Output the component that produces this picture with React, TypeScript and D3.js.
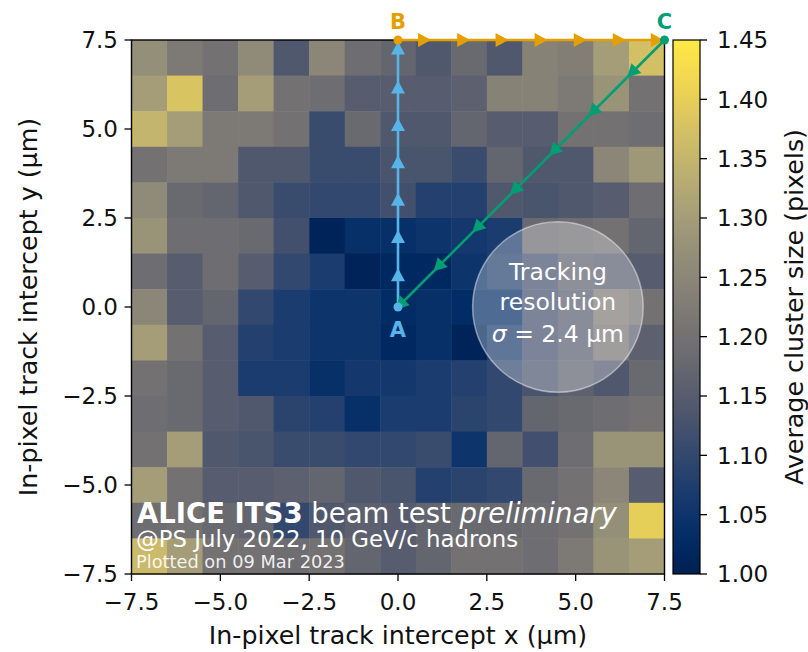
import React from "react";
import * as d3 from "d3";

// ---- data ----
const xCenters = [-7, -6, -5, -4, -3, -2, -1, 0, 1, 2, 3, 4, 5, 6, 7];
const yCenters = [7, 6, 5, 4, 3, 2, 1, 0, -1, -2, -3, -4, -5, -6, -7];
// average cluster size, rows from y=7 (top) to y=-7 (bottom), cols x=-7..7
const clusterSize = [
  [1.27, 1.22, 1.2, 1.26, 1.14, 1.25, 1.19, 1.17, 1.14, 1.18, 1.14, 1.24, 1.23, 1.3, 1.37],
  [1.3, 1.38, 1.19, 1.3, 1.2, 1.19, 1.15, 1.15, 1.15, 1.16, 1.24, 1.24, 1.22, 1.28, 1.2],
  [1.35, 1.3, 1.22, 1.22, 1.2, 1.11, 1.18, 1.14, 1.14, 1.17, 1.15, 1.15, 1.2, 1.2, 1.19],
  [1.2, 1.22, 1.22, 1.14, 1.14, 1.11, 1.11, 1.13, 1.13, 1.11, 1.17, 1.14, 1.14, 1.25, 1.29],
  [1.26, 1.18, 1.17, 1.14, 1.11, 1.1, 1.1, 1.12, 1.08, 1.08, 1.14, 1.13, 1.14, 1.15, 1.19],
  [1.28, 1.19, 1.19, 1.18, 1.12, 1.01, 1.04, 1.04, 1.05, 1.06, 1.07, 1.18, 1.19, 1.2, 1.17],
  [1.19, 1.15, 1.19, 1.15, 1.1, 1.07, 1.01, 1.02, 1.02, 1.05, 1.08, 1.12, 1.16, 1.15, 1.15],
  [1.25, 1.15, 1.17, 1.1, 1.07, 1.05, 1.05, 1.03, 1.04, 1.03, 1.03, 1.12, 1.15, 1.22, 1.2],
  [1.3, 1.2, 1.15, 1.08, 1.07, 1.05, 1.05, 1.02, 1.04, 1.01, 1.07, 1.12, 1.15, 1.21, 1.16],
  [1.2, 1.18, 1.15, 1.07, 1.07, 1.04, 1.06, 1.06, 1.07, 1.08, 1.1, 1.13, 1.16, 1.14, 1.18],
  [1.19, 1.18, 1.15, 1.14, 1.09, 1.08, 1.04, 1.07, 1.07, 1.09, 1.1, 1.17, 1.18, 1.19, 1.2],
  [1.2, 1.3, 1.14, 1.13, 1.11, 1.11, 1.1, 1.1, 1.11, 1.05, 1.17, 1.12, 1.19, 1.28, 1.28],
  [1.3, 1.2, 1.15, 1.15, 1.16, 1.17, 1.14, 1.13, 1.08, 1.09, 1.1, 1.18, 1.2, 1.25, 1.15],
  [1.19, 1.2, 1.18, 1.17, 1.1, 1.14, 1.16, 1.15, 1.17, 1.18, 1.18, 1.19, 1.2, 1.27, 1.4],
  [1.36, 1.3, 1.2, 1.2, 1.19, 1.2, 1.17, 1.15, 1.17, 1.2, 1.2, 1.19, 1.22, 1.28, 1.3],
];
const axisTicks = [-7.5, -5, -2.5, 0, 2.5, 5, 7.5];
const colorTicks = [1.0, 1.05, 1.1, 1.15, 1.2, 1.25, 1.3, 1.35, 1.4, 1.45];

// path points (µm)
const pointA = [0, 0];
const pointB = [0, 7.5];
const pointC = [7.5, 7.5];
// marker positions along each path
const markersAB = [0.88, 1.95, 3.0, 4.05, 5.1, 6.15, 7.25]; // y, at x=0
const markersBC = [0.72, 1.82, 2.9, 4.0, 5.1, 6.2, 7.27]; // x, at y=7.5
const markersCA = [6.6, 5.5, 4.4, 3.3, 2.24, 1.15, 0.08]; // x = y

const resolutionCenter = [4.5, 0];
const resolutionSigma = 2.4;

const BLUE = "#56B4E9";
const ORANGE = "#E69F00";
const GREEN = "#009E73";
const FONT = "'DejaVu Sans', sans-serif";

const W = 808;
const H = 652;

export default function App() {
  const x = d3.scaleLinear().domain([-7.5, 7.5]).range([131.5, 664.5]);
  const y = d3.scaleLinear().domain([-7.5, 7.5]).range([574, 40]);
  const color = d3.scaleSequential(d3.interpolateCividis).domain([1.0, 1.45]);
  const cb = d3.scaleLinear().domain([1.0, 1.45]).range([574, 40]);
  const cbX0 = 673;
  const cbX1 = 700;

  const cells: { x0: number; x1: number; y0: number; y1: number; v: number }[] = [];
  yCenters.forEach((yc, r) => {
    xCenters.forEach((xc, c) => {
      cells.push({
        x0: x(xc - 0.5),
        x1: x(xc + 0.5),
        y0: y(yc + 0.5),
        y1: y(yc - 0.5),
        v: clusterSize[r][c],
      });
    });
  });

  const fmt = (v: number) => (v < 0 ? "\u2212" + Math.abs(v).toFixed(1) : v.toFixed(1));
  const tri = "M0,-7.5 L7,5.5 L-7,5.5 Z";
  const line = d3.line<number[]>().x((d) => x(d[0])).y((d) => y(d[1]));
  const stops = d3.range(0, 1.0001, 0.05);

  const rPx = x(resolutionSigma) - x(0);
  const cx = x(resolutionCenter[0]);
  const cy = y(resolutionCenter[1]);

  return (
    <svg
      width={W}
      height={H}
      style={{ position: "absolute", left: 0, top: 0, background: "white" }}
      fontFamily={FONT}
    >
      <defs>
        <linearGradient id="cbgrad" x1="0" y1="1" x2="0" y2="0">
          {stops.map((t) => (
            <stop key={t} offset={t} stopColor={d3.interpolateCividis(t)} />
          ))}
        </linearGradient>
      </defs>

      {/* heatmap */}
      {cells.map((c, i) => (
        <rect
          key={i}
          x={c.x0}
          y={c.y0}
          width={c.x1 - c.x0 + 0.5}
          height={c.y1 - c.y0 + 0.5}
          fill={color(c.v)}
        />
      ))}

      {/* bottom-left text */}
      <text x={137} y={523} fill="white" fontSize={27.5}>
        <tspan fontWeight="bold">ALICE ITS3</tspan>
        <tspan> beam test </tspan>
        <tspan fontStyle="italic">preliminary</tspan>
      </text>
      <text x={136} y={547} fill="white" fontSize={22.8}>
        @PS July 2022, 10 GeV/c hadrons
      </text>
      <text x={136} y={568} fill="white" fillOpacity={0.9} fontSize={17.8}>
        Plotted on 09 Mar 2023
      </text>

      {/* resolution circle */}
      <circle cx={cx} cy={cy} r={rPx} fill="white" fillOpacity={0.3} stroke="white" strokeOpacity={0.45} strokeWidth={1.5} />
      <text x={cx} y={cy - 27} fill="white" fontSize={23.5} textAnchor="middle">Tracking</text>
      <text x={cx} y={cy + 3} fill="white" fontSize={23.5} textAnchor="middle">resolution</text>
      <text x={cx} y={cy + 35} fill="white" fontSize={23.5} textAnchor="middle">
        <tspan fontStyle="italic">σ</tspan>
        <tspan> = 2.4 µm</tspan>
      </text>

      {/* spines */}
      <rect x={x(-7.5)} y={y(7.5)} width={x(7.5) - x(-7.5)} height={y(-7.5) - y(7.5)} fill="none" stroke="black" strokeWidth={1.4} />

      {/* paths */}
      <path d={line([pointA, pointB]) || ""} stroke={BLUE} strokeWidth={2.6} fill="none" />
      {markersAB.map((v, i) => (
        <path key={"ab" + i} d={tri} fill={BLUE} transform={`translate(${x(0)},${y(v)})`} />
      ))}
      <path d={line([pointB, pointC]) || ""} stroke={ORANGE} strokeWidth={2.6} fill="none" />
      {markersBC.map((v, i) => (
        <path key={"bc" + i} d={tri} fill={ORANGE} transform={`translate(${x(v)},${y(7.5)}) rotate(90)`} />
      ))}
      <path d={line([pointC, pointA]) || ""} stroke={GREEN} strokeWidth={2.6} fill="none" />
      {markersCA.map((v, i) => (
        <path key={"ca" + i} d={tri} fill={GREEN} transform={`translate(${x(v)},${y(v)}) rotate(225)`} />
      ))}
      <circle cx={x(pointA[0])} cy={y(pointA[1])} r={4.5} fill={BLUE} />
      <circle cx={x(pointB[0])} cy={y(pointB[1])} r={4.5} fill={ORANGE} />
      <circle cx={x(pointC[0])} cy={y(pointC[1])} r={4.5} fill={GREEN} />
      <text x={x(pointA[0])} y={337} fill={BLUE} fontSize={21} fontWeight="bold" textAnchor="middle">A</text>
      <text x={x(pointB[0])} y={28.5} fill={ORANGE} fontSize={21} fontWeight="bold" textAnchor="middle">B</text>
      <text x={x(pointC[0])} y={28.5} fill={GREEN} fontSize={21} fontWeight="bold" textAnchor="middle">C</text>

      {/* x axis */}
      {axisTicks.map((t) => (
        <g key={"xt" + t}>
          <line x1={x(t)} x2={x(t)} y1={574} y2={581} stroke="black" strokeWidth={1.3} />
          <text x={x(t)} y={610} fontSize={23} textAnchor="middle" fill="#111">{fmt(t)}</text>
        </g>
      ))}
      <text x={(x(-7.5) + x(7.5)) / 2} y={644} fontSize={25.3} textAnchor="middle" fill="#111">
        In-pixel track intercept x (µm)
      </text>

      {/* y axis */}
      {axisTicks.map((t) => (
        <g key={"yt" + t}>
          <line x1={124.5} x2={131.5} y1={y(t)} y2={y(t)} stroke="black" strokeWidth={1.3} />
          <text x={118} y={y(t)} dy="0.36em" fontSize={23} textAnchor="end" fill="#111">{fmt(t)}</text>
        </g>
      ))}
      <text
        transform={`translate(37,${(y(-7.5) + y(7.5)) / 2}) rotate(-90)`}
        fontSize={25.3}
        textAnchor="middle"
        fill="#111"
      >
        In-pixel track intercept y (µm)
      </text>

      {/* colorbar */}
      <rect x={cbX0} y={cb(1.45)} width={cbX1 - cbX0} height={cb(1.0) - cb(1.45)} fill="url(#cbgrad)" stroke="black" strokeWidth={1.2} />
      {colorTicks.map((t) => (
        <g key={"ct" + t}>
          <line x1={cbX1} x2={cbX1 + 7} y1={cb(t)} y2={cb(t)} stroke="black" strokeWidth={1.3} />
          <text x={717} y={cb(t)} dy="0.36em" fontSize={23} fill="#111">{t.toFixed(2)}</text>
        </g>
      ))}
      <text
        transform={`translate(803,${(cb(1.0) + cb(1.45)) / 2}) rotate(-90)`}
        fontSize={25.3}
        textAnchor="middle"
        fill="#111"
      >
        Average cluster size (pixels)
      </text>
    </svg>
  );
}
